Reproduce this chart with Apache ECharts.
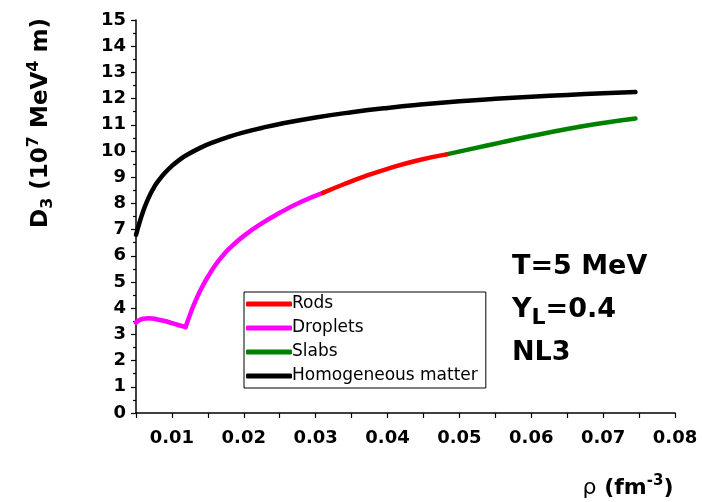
<!DOCTYPE html>
<html>
<head>
<meta charset="utf-8">
<script src="https://cdn.jsdelivr.net/npm/echarts@6/dist/echarts.min.js"></script>
<style>
  html, body { margin: 0; padding: 0; background: #fff; }
  #chart { width: 702px; height: 502px; }
</style>
</head>
<body>
<div id="chart"></div>
<script>
// Density rho (fm^-3) and D3 (10^7 MeV^4 m) for each pasta phase, NL3, T = 5 MeV, YL = 0.4
// Droplets: falling branch up to the kink, then the rising branch
const rhoDropletsLow = [0.005, 0.0055, 0.006, 0.0068, 0.008, 0.009, 0.010, 0.011, 0.0119];
const d3DropletsLow  = [3.45, 3.55, 3.60, 3.62, 3.57, 3.51, 3.43, 3.35, 3.28];
const rhoDropletsHigh = [0.0119, 0.0125, 0.013, 0.014, 0.015, 0.016, 0.017, 0.018, 0.020, 0.0225, 0.025, 0.028, 0.031];
const d3DropletsHigh  = [3.28, 3.74, 4.10, 4.70, 5.20, 5.63, 5.98, 6.28, 6.76, 7.24, 7.64, 8.06, 8.40];

const rhoRods = [0.031, 0.034, 0.037, 0.040, 0.044, 0.0482];
const d3Rods  = [8.40, 8.74, 9.05, 9.32, 9.63, 9.87];

const rhoSlabs = [0.0482, 0.052, 0.056, 0.060, 0.065, 0.070, 0.0745];
const d3Slabs  = [9.87, 10.10, 10.34, 10.57, 10.84, 11.07, 11.24];

const rhoHomog = [0.005, 0.0055, 0.006, 0.0065, 0.007, 0.0075, 0.008, 0.009, 0.010, 0.011, 0.012, 0.014, 0.016, 0.018, 0.020, 0.0225, 0.025, 0.030, 0.035, 0.040, 0.045, 0.050, 0.055, 0.060, 0.065, 0.070, 0.0745];
const d3Homog  = [6.80, 7.28, 7.70, 8.06, 8.36, 8.61, 8.82, 9.16, 9.43, 9.65, 9.84, 10.13, 10.36, 10.55, 10.71, 10.88, 11.03, 11.28, 11.48, 11.645, 11.78, 11.895, 11.99, 12.07, 12.14, 12.20, 12.25];

const legendNames = ['Rods', 'Droplets', 'Slabs', 'Homogeneous matter'];
const yTicks = { min: 0, max: 15, step: 1 };
const xTicks = { min: 0.005, max: 0.08, step: 0.005 };

const zip = (xs, ys) => xs.map((x, i) => [x, ys[i]]);

const FONT = 'DejaVu Sans';

function curve(name, color, xs, ys, z) {
  return {
    name: name,
    type: 'line',
    data: zip(xs, ys),
    smooth: 0.5,
    symbol: 'none',
    z: z,
    lineStyle: { color: color, width: 4.5, cap: 'round', join: 'round' },
    itemStyle: { color: color }
  };
}

const chart = echarts.init(document.getElementById('chart'), null, { renderer: 'canvas' });

chart.setOption({
  animation: false,
  backgroundColor: '#ffffff',
  grid: { left: 136, top: 20, right: 27, bottom: 89, containLabel: false },
  xAxis: {
    type: 'value',
    min: xTicks.min,
    max: xTicks.max,
    interval: xTicks.step,
    axisLine: { show: true, onZero: false, lineStyle: { color: '#000', width: 1.5 } },
    axisTick: { show: true, inside: false, length: 5, lineStyle: { color: '#000', width: 1.2 } },
    splitLine: { show: false },
    axisLabel: {
      margin: 16,
      color: '#000',
      fontFamily: FONT,
      fontWeight: 'bold',
      fontSize: 18,
      formatter: function (v) {
        const k = Math.round(v * 1000);
        return (k % 10 === 0) ? (k / 1000).toFixed(2) : '';
      }
    }
  },
  yAxis: {
    type: 'value',
    min: yTicks.min,
    max: yTicks.max,
    interval: yTicks.step,
    axisLine: { show: true, onZero: false, lineStyle: { color: '#000', width: 1.5 } },
    axisTick: { show: true, inside: false, length: 5, lineStyle: { color: '#000', width: 1.2 } },
    minorTick: { show: true, splitNumber: 2, length: 3, lineStyle: { color: '#000', width: 1.2 } },
    splitLine: { show: false },
    axisLabel: {
      margin: 10,
      color: '#000',
      fontFamily: FONT,
      fontWeight: 'bold',
      fontSize: 18
    }
  },
  legend: {
    data: legendNames,
    orient: 'vertical',
    left: 244,
    top: 292,
    padding: [3, 8, 3, 2],
    itemGap: 6,
    itemWidth: 46,
    itemHeight: 5,
    icon: 'roundRect',
    borderColor: '#000',
    borderWidth: 1,
    backgroundColor: '#fff',
    selectedMode: false,
    textStyle: { color: '#000', fontFamily: FONT, fontSize: 17, lineHeight: 18, padding: [0, 0, 0, -5] }
  },
  series: [
    curve('Homogeneous matter', '#000000', rhoHomog, d3Homog, 2),
    curve('Droplets', '#ff00ff', rhoDropletsLow, d3DropletsLow, 3),
    curve('Droplets', '#ff00ff', rhoDropletsHigh, d3DropletsHigh, 3),
    curve('Rods', '#ff0000', rhoRods, d3Rods, 4),
    curve('Slabs', '#008000', rhoSlabs, d3Slabs, 3)
  ],
  graphic: [
    {
      type: 'text',
      x: 41, y: 123,
      rotation: Math.PI / 2,
      style: {
        text: '{m|D}{sub|3}{m| (10}{sup|7}{m| MeV}{sup|4}{m| m)}',
        align: 'center', verticalAlign: 'middle',
        textAlign: 'center', textVerticalAlign: 'middle',
        fill: '#000',
        rich: {
          m: { fontFamily: FONT, fontWeight: 'bold', fontSize: 23, fill: '#000', lineHeight: 30 },
          sub: { fontFamily: FONT, fontWeight: 'bold', fontSize: 16, fill: '#000', padding: [14, 0, 0, 0] },
          sup: { fontFamily: FONT, fontWeight: 'bold', fontSize: 16, fill: '#000', padding: [0, 0, 14, 0] }
        }
      }
    },
    {
      type: 'text',
      x: 628, y: 488,
      style: {
        text: '{r|ρ}{m| (fm}{sup|-3}{m|)}',
        align: 'center', verticalAlign: 'middle',
        textAlign: 'center', textVerticalAlign: 'middle',
        fill: '#000',
        rich: {
          r: { fontFamily: FONT, fontSize: 22, fill: '#000', lineHeight: 28 },
          m: { fontFamily: FONT, fontWeight: 'bold', fontSize: 22, fill: '#000', lineHeight: 28 },
          sup: { fontFamily: FONT, fontWeight: 'bold', fontSize: 15, fill: '#000', padding: [0, 0, 14, 0] }
        }
      }
    },
    {
      type: 'text',
      x: 512, y: 267,
      style: {
        text: 'T=5 MeV',
        fontFamily: FONT, fontWeight: 'bold', fontSize: 27, fill: '#000',
        align: 'left', verticalAlign: 'middle', textAlign: 'left', textVerticalAlign: 'middle'
      }
    },
    {
      type: 'text',
      x: 512, y: 310,
      style: {
        text: '{m|Y}{sub|L}{m|=0.4}',
        align: 'left', verticalAlign: 'middle', textAlign: 'left', textVerticalAlign: 'middle',
        fill: '#000',
        rich: {
          m: { fontFamily: FONT, fontWeight: 'bold', fontSize: 27, fill: '#000', lineHeight: 32 },
          sub: { fontFamily: FONT, fontWeight: 'bold', fontSize: 22, fill: '#000', padding: [16, 0, 0, 0] }
        }
      }
    },
    {
      type: 'text',
      x: 512, y: 353,
      style: {
        text: 'NL3',
        fontFamily: FONT, fontWeight: 'bold', fontSize: 27, fill: '#000',
        align: 'left', verticalAlign: 'middle', textAlign: 'left', textVerticalAlign: 'middle'
      }
    }
  ]
});
</script>
</body>
</html>
